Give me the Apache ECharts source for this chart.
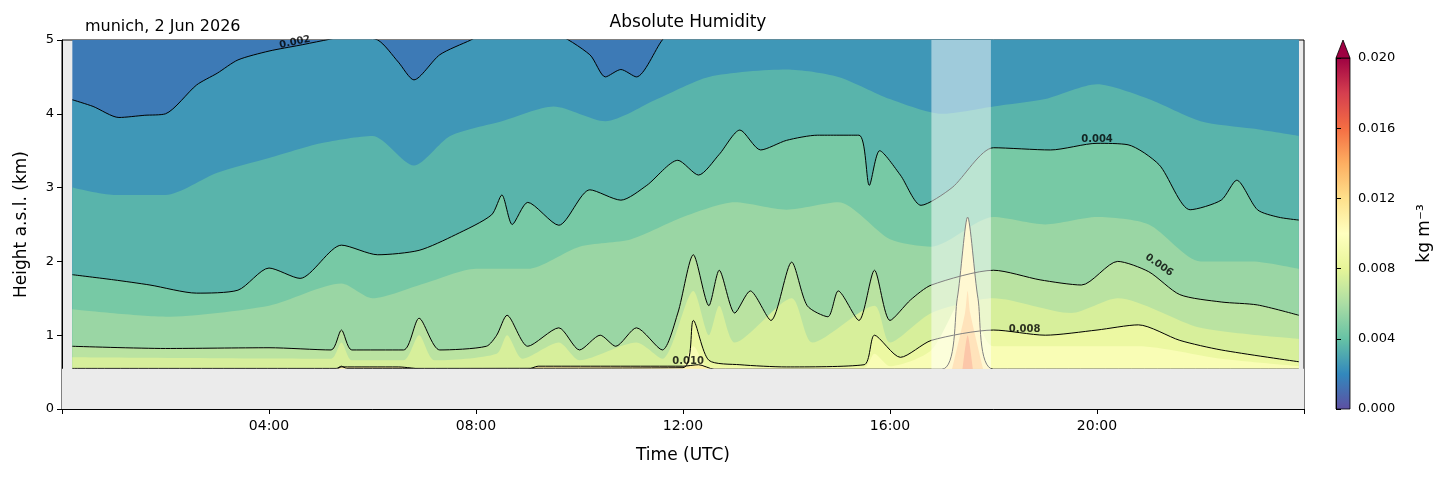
<!DOCTYPE html>
<html><head><meta charset="utf-8">
<script src="https://cdn.jsdelivr.net/npm/echarts@6/dist/echarts.min.js"></script>
<style>body{margin:0;background:#fff}#c{width:1454px;height:478px}</style>
</head><body><div id="c"></div>
<script>
// contour heights [hour, km]
var lev002 = [[0.2,4.19],[0.6,4.1],[1.1,3.95],[1.6,3.98],[2,4.0],[2.6,4.39],[3.0,4.55],[3.4,4.73],[4,4.85],[4.6,4.93],[5.1,5.0],[5.5,5.05],[6.1,5.0],[6.5,4.7],[6.8,4.46],[7.3,4.8],[7.9,5.0],[8.5,5.2],[9.5,5.1],[10.2,4.8],[10.5,4.5],[10.8,4.6],[11.1,4.5],[11.6,5.0],[12,5.3],[24,5.3]];
var lev003 = [[0.2,3.0],[1,2.9],[2,2.9],[3,3.2],[4,3.4],[5,3.6],[6,3.7],[6.8,3.3],[7.5,3.7],[8.5,3.9],[9.5,4.1],[10.5,3.9],[11.5,4.2],[12.5,4.5],[14,4.6],[15,4.5],[16,4.2],[17,4.0],[18,4.1],[19,4.2],[20,4.4],[21,4.2],[22,3.9],[23,3.8],[24,3.7]];
var lev004 = [[0.2,1.82],[1,1.75],[1.7,1.68],[2.6,1.57],[3.4,1.61],[4,1.91],[4.6,1.77],[5.4,2.22],[6.1,2.09],[6.9,2.15],[7.6,2.36],[8.3,2.63],[8.5,2.9],[8.7,2.5],[9.0,2.8],[9.6,2.49],[10.2,2.97],[10.8,2.83],[11.3,3.03],[11.9,3.37],[12.3,3.17],[12.7,3.45],[13.1,3.78],[13.5,3.51],[14,3.64],[14.6,3.71],[15.4,3.71],[15.6,3.03],[15.8,3.5],[16.2,3.17],[16.6,2.76],[17.2,3.0],[18,3.54],[19.1,3.51],[20,3.6],[20.6,3.58],[21.2,3.31],[21.8,2.7],[22.4,2.83],[22.7,3.1],[23.1,2.7],[23.5,2.6],[24,2.56]];
var lev005 = [[0.2,1.35],[2,1.25],[4,1.4],[5.4,1.7],[6,1.5],[7,1.7],[8,1.9],[9,1.9],[10,2.2],[11,2.3],[12,2.6],[13,2.8],[14,2.7],[15,2.8],[16,2.3],[16.8,2.2],[18,2.6],[19,2.5],[20,2.6],[21,2.5],[22,2.0],[23,2.0],[24,1.9]];
var lev006 = [[0.2,0.85],[2,0.82],[4,0.83],[5.2,0.8],[5.4,1.07],[5.6,0.8],[6.6,0.8],[6.9,1.23],[7.3,0.8],[8.2,0.85],[8.4,1.0],[8.6,1.27],[9,0.85],[9.6,1.1],[10,0.8],[10.4,1.0],[10.7,0.85],[11.1,1.1],[11.6,0.8],[11.9,1.3],[12.2,2.09],[12.5,1.4],[12.7,1.88],[13,1.3],[13.3,1.6],[13.7,1.2],[14.1,1.99],[14.4,1.4],[14.8,1.25],[15,1.6],[15.4,1.2],[15.7,1.88],[16,1.2],[16.4,1.48],[16.8,1.68],[18,1.88],[18.9,1.75],[19.7,1.68],[20.4,2.0],[21,1.86],[21.6,1.55],[22.4,1.45],[23.1,1.41],[24,1.27]];
var lev007 = [[0.2,0.7],[5.2,0.68],[5.4,0.9],[5.6,0.66],[6.6,0.66],[6.9,1.0],[7.2,0.66],[8.4,0.75],[8.6,1.0],[8.9,0.68],[9.6,0.9],[10,0.66],[11.1,0.9],[11.6,0.68],[12.2,1.6],[12.5,1.0],[12.7,1.4],[13,0.9],[14.1,1.5],[14.5,0.9],[15.7,1.4],[16,0.9],[16.8,1.3],[18,1.5],[19.5,1.3],[20.4,1.5],[22,1.1],[24,0.95]];
var lev008 = [[0.2,0.55],[5.3,0.55],[5.4,0.58],[5.5,0.55],[12,0.56],[12.2,1.2],[12.5,0.66],[13.1,0.6],[14,0.57],[15.5,0.6],[15.7,1.0],[16.2,0.7],[16.8,0.93],[18,1.07],[19,1.0],[20,1.07],[20.8,1.14],[21.6,0.93],[22.4,0.8],[24,0.64]];
var lev009 = [[0.2,0.55],[11.9,0.55],[12.2,0.85],[12.5,0.56],[15.5,0.56],[15.7,0.75],[16,0.58],[16.8,0.8],[17.5,1.6],[18,0.85],[20.8,0.85],[22.4,0.68],[24,0.58]];
var lev010 = [[0.2,0.54],[5.3,0.54],[5.4,0.57],[6.5,0.57],[7,0.54],[9,0.54],[9.2,0.58],[12,0.58],[12.3,0.6],[12.6,0.54],[17,0.54],[17.3,1.5],[17.5,2.6],[17.7,1.5],[18,0.54],[24,0.54]];
var lev012 = [[17.2,0.54],[17.45,1.3],[17.5,1.6],[17.55,1.3],[17.8,0.54]];
var lev014 = [[17.4,0.54],[17.5,1.0],[17.6,0.54]];
var levels = [0.002,0.003,0.004,0.005,0.006,0.007,0.008,0.009,0.010,0.012,0.014];
var levelData = [lev002,lev003,lev004,lev005,lev006,lev007,lev008,lev009,lev010,lev012,lev014];
var drawn = [0.002,0.004,0.006,0.008,0.010];
var gap = [16.8,17.95];

var stops = ['#5e4fa2','#3288bd','#66c2a5','#abdda4','#e6f598','#ffffbf','#fee08b','#fdae61','#f46d43','#d53e4f','#9e0142'];
function hex(c){return [1,3,5].map(function(i){return parseInt(c.substr(i,2),16);});}
function cmap(v){
  var f=Math.max(0,Math.min(1,v/0.02))*10, i=Math.min(9,Math.floor(f)), r=f-i;
  var a=hex(stops[i]), b=hex(stops[i+1]);
  return 'rgb('+a.map(function(x,k){return Math.round(x+(b[k]-x)*r);}).join(',')+')';
}
function clipT(d){ return d.map(function(p){return [Math.min(23.9,Math.max(0.2,p[0])),p[1]];}); }

var series = [];
series.push({type:'line',data:[[0.2,5],[23.9,5]],symbol:'none',lineStyle:{width:0},
  areaStyle:{color:cmap(0.0015),opacity:1,origin:0.54},silent:true,z:2});
levels.forEach(function(lv,i){
  var next = i+1<levels.length ? levels[i+1] : lv+0.002;
  var isDrawn = drawn.indexOf(lv)>=0;
  series.push({type:'line',data:clipT(levelData[i]),symbol:'none',silent:true,smooth:0.25,z:2,
    lineStyle:{width:isDrawn?1:0,color:'#000'},
    areaStyle:{color:cmap((lv+next)/2),opacity:1,origin:0.54}});
});
// ground below the lowest range gate
series.push({type:'line',data:[[0,0.545],[24,0.545]],symbol:'none',lineStyle:{width:0},z:3,
  areaStyle:{color:'#ebebeb',opacity:1,origin:0},silent:true});
// missing-data overlay
series.push({type:'line',data:[[gap[0],5],[gap[1],5]],symbol:'none',lineStyle:{width:0},z:4,
  areaStyle:{color:'rgba(255,255,255,0.5)',opacity:1,origin:0.545},silent:true});
// contour labels
var labs = [[4.5,4.97,'0.002',12],[20,3.65,'0.004',0],[21.2,1.95,'0.006',-35],[18.6,1.08,'0.008',0],[12.1,0.65,'0.010',0]];
series.push({type:'scatter',symbolSize:0,silent:true,z:10,
  data:labs.map(function(l){return {value:[l[0],l[1]],label:{show:true,formatter:l[2],rotate:l[3],
    color:'#000',fontWeight:'bold',fontSize:10,fontFamily:'DejaVu Sans'}};})});
series.push({type:'scatter',xAxisIndex:1,yAxisIndex:1,data:[]});

var chart = echarts.init(document.getElementById('c'));
chart.setOption({
  animation:false,
  textStyle:{fontFamily:'DejaVu Sans'},
  title:[{text:'Absolute Humidity',left:683,textAlign:'center',top:9,textStyle:{fontSize:17,fontWeight:'normal',color:'#000'}},
         {text:'munich, 2 Jun 2026',left:80,top:14,textStyle:{fontSize:16,fontWeight:'normal',color:'#000'}}],
  grid:[{left:62,right:150,top:40,bottom:69,show:true,backgroundColor:'#ebebeb',borderColor:'#000',borderWidth:1},
        {left:1336,width:14,top:58,bottom:69}],
  xAxis:[{type:'value',min:0,max:24,interval:4,name:'Time (UTC)',nameLocation:'middle',nameGap:38,
    nameTextStyle:{fontSize:17,color:'#000'},splitLine:{show:false},axisLine:{lineStyle:{color:'#000'}},
    axisTick:{lineStyle:{color:'#000'}},
    axisLabel:{fontSize:14,color:'#000',margin:10,formatter:function(v){return (v===0||v===24)?'':(v<10?'0':'')+v+':00';}}},
    {gridIndex:1,type:'value',show:false}],
  yAxis:[{type:'value',min:0,max:5,interval:1,name:'Height a.s.l. (km)',nameLocation:'middle',nameGap:32,
    nameTextStyle:{fontSize:17,color:'#000'},splitLine:{show:false},axisLine:{show:true,lineStyle:{color:'#000'}},
    axisTick:{show:true,lineStyle:{color:'#000'}},axisLabel:{fontSize:13,color:'#000'}},
    {gridIndex:1,type:'value',min:0,max:0.02,interval:0.004,position:'right',splitLine:{show:false},
    axisLine:{show:true,lineStyle:{color:'#000'}},axisTick:{show:true,lineStyle:{color:'#000'}},
    axisLabel:{fontSize:13,color:'#000',formatter:function(v){return v.toFixed(3);}},
    name:'kg m⁻³',nameLocation:'middle',nameRotate:90,nameGap:66,nameTextStyle:{fontSize:17,color:'#000'}}],
  graphic:[
    {type:'rect',shape:{x:1336,y:58,width:14,height:351},z:-1,
     style:{fill:new echarts.graphic.LinearGradient(0,1,0,0,stops.map(function(c,i){return {offset:i/10,color:c};})),stroke:'#000',lineWidth:0.8}},
    {type:'polygon',shape:{points:[[1336,58],[1350,58],[1343,40]]},style:{fill:'#9e0142',stroke:'#000',lineWidth:0.8}}
  ],
  series:series
});
</script></body></html>
